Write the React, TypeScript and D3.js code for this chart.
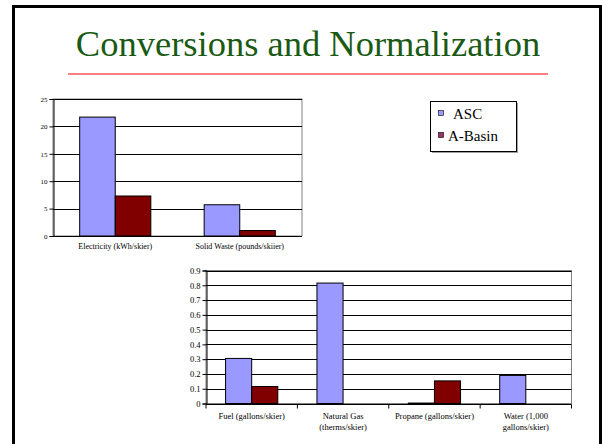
import React, { useEffect, useRef } from 'react';
import * as d3 from 'd3';

// series
const seriesNames = ['ASC', 'A-Basin'];
const seriesColors = ['#9999FF', '#800000'];
const legendMarkerColors = ['#9999FF', '#993366'];

// upper chart
const topCategories = [['Electricity (kWh/skier)'], ['Solid Waste (pounds/skiier)']];
const topAsc = [21.7, 5.7];
const topABasin = [7.3, 1.0];
const topTicks = [0, 5, 10, 15, 20, 25];

// lower chart
const bottomCategories = [
  ['Fuel (gallons/skier)'],
  ['Natural Gas', '(therms/skier)'],
  ['Propane (gallons/skier)'],
  ['Water (1,000', 'gallons/skier)']
];
const bottomAsc = [0.305, 0.815, 0.003, 0.19];
const bottomABasin = [0.115, 0, 0.153, 0];
const bottomTicks = [0, 0.1, 0.2, 0.3, 0.4, 0.5, 0.6, 0.7, 0.8, 0.9];

const FONT = '"Liberation Serif", "Times New Roman", serif';

function drawBarChart(svg, {
  categories, asc, aBasin, ticks, left, right, top, bottom,
  tickFont, catFont, catTicks, labelY, lineGap
}) {
  const g = svg.append('g');
  const x0 = d3.scaleBand().domain(categories.map((_, i) => i)).range([left, right]);
  const x1 = d3.scaleBand().domain(seriesNames).range([0, x0.bandwidth()]).paddingOuter(0.75);
  const y = d3.scaleLinear().domain([0, ticks[ticks.length - 1]]).range([bottom, top]);

  // plot area frame (grey)
  g.append('rect')
    .attr('x', left).attr('y', top)
    .attr('width', right - left).attr('height', bottom - top)
    .attr('fill', 'none').attr('stroke', '#808080').attr('stroke-width', 1);

  // gridlines
  g.selectAll('.grid')
    .data(ticks.slice(1))
    .enter()
    .append('line')
    .attr('x1', left).attr('x2', right)
    .attr('y1', d => Math.round(y(d)) + 0.5).attr('y2', d => Math.round(y(d)) + 0.5)
    .attr('stroke', '#000').attr('stroke-width', 1);

  // bars (zero values are not drawn)
  const values = [asc, aBasin];
  seriesNames.forEach((s, si) => {
    const rows = values[si].map((v, i) => ({ v, i })).filter(d => d.v > 0);
    g.selectAll(`.bar-${si}`)
      .data(rows)
      .enter()
      .append('rect')
      .attr('x', d => x0(d.i) + x1(s))
      .attr('y', d => y(d.v))
      .attr('width', x1.bandwidth())
      .attr('height', d => bottom - y(d.v))
      .attr('fill', seriesColors[si])
      .attr('stroke', '#000')
      .attr('stroke-width', 1);
  });

  // y axis
  const yAxis = d3.axisLeft(y).tickValues(ticks).tickSize(4).tickPadding(2)
    .tickFormat(d => String(d));
  const ya = g.append('g').attr('transform', `translate(${left + 0.5},0)`).call(yAxis);
  ya.select('.domain').attr('stroke', '#000');
  ya.selectAll('text').attr('font-family', FONT).attr('font-size', tickFont).attr('fill', '#000');

  // x axis
  const xa = g.append('g').attr('transform', `translate(0,${Math.round(bottom) + 0.5})`);
  xa.append('line').attr('x1', left).attr('x2', right).attr('stroke', '#000');
  if (catTicks) {
    const edges = categories.map((_, i) => x0(i)).concat([right]);
    xa.selectAll('.xt').data(edges).enter().append('line')
      .attr('x1', d => d).attr('x2', d => d).attr('y1', 0).attr('y2', 4)
      .attr('stroke', '#000');
  }
  categories.forEach((lines, i) => {
    const t = g.append('text')
      .attr('font-family', FONT).attr('font-size', catFont).attr('fill', '#000')
      .attr('text-anchor', 'middle');
    lines.forEach((line, li) => {
      t.append('tspan')
        .attr('x', x0(i) + x0.bandwidth() / 2)
        .attr('y', labelY + li * lineGap)
        .text(line);
    });
  });
}

const App = () => {
  const svgRef = useRef(null);

  useEffect(() => {
    const svg = d3.select(svgRef.current);
    svg.selectAll('*').remove();

    // slide frame
    svg.append('rect')
      .attr('x', 13.5).attr('y', 6.5).attr('width', 587).attr('height', 460)
      .attr('fill', 'none').attr('stroke', '#000').attr('stroke-width', 3);

    // title
    svg.append('text')
      .attr('x', 308).attr('y', 56)
      .attr('text-anchor', 'middle')
      .attr('font-family', FONT).attr('font-size', 36.5)
      .attr('fill', '#1A5A14')
      .text('Conversions and Normalization');
    svg.append('line')
      .attr('x1', 68).attr('x2', 548).attr('y1', 74).attr('y2', 74)
      .attr('stroke', '#FF0000').attr('stroke-width', 1.2);

    drawBarChart(svg, {
      categories: topCategories, asc: topAsc, aBasin: topABasin, ticks: topTicks,
      left: 53, right: 302, top: 99, bottom: 236,
      tickFont: 7, catFont: 8, catTicks: false, labelY: 249, lineGap: 10
    });

    drawBarChart(svg, {
      categories: bottomCategories, asc: bottomAsc, aBasin: bottomABasin, ticks: bottomTicks,
      left: 206, right: 571.5, top: 270.5, bottom: 403.5,
      tickFont: 8.5, catFont: 8.5, catTicks: true, labelY: 419, lineGap: 11
    });

    // legend
    const lg = svg.append('g');
    lg.append('rect').attr('x', 432).attr('y', 103).attr('width', 86).attr('height', 50)
      .attr('fill', '#a0a0a0');
    lg.append('rect').attr('x', 430.5).attr('y', 101.5).attr('width', 86).attr('height', 50)
      .attr('fill', '#fff').attr('stroke', '#000').attr('stroke-width', 1);
    seriesNames.forEach((name, i) => {
      const cy = 114 + i * 22;
      lg.append('rect')
        .attr('x', 438.5).attr('y', cy - 3.5).attr('width', 5).attr('height', 5)
        .attr('fill', legendMarkerColors[i]).attr('stroke', '#000').attr('stroke-width', 0.6);
      lg.append('text')
        .attr('x', i === 0 ? 453 : 448).attr('y', cy + 5)
        .attr('font-family', FONT).attr('font-size', 15).attr('fill', '#000')
        .text(name);
    });
  }, []);

  return (
    <svg
      ref={svgRef}
      width={602}
      height={444}
      style={{ position: 'absolute', left: 0, top: 0, background: '#fff' }}
    />
  );
};

export default App;
